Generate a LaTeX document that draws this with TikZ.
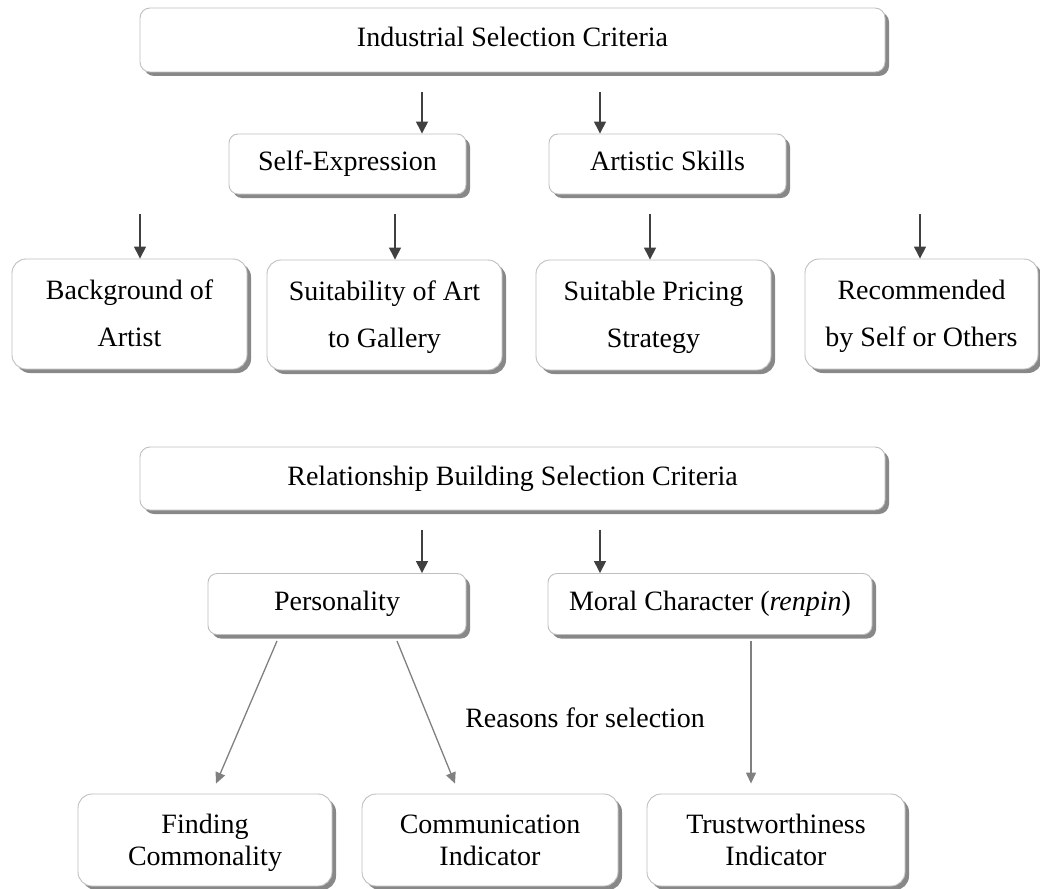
\documentclass[tikz,border=0pt]{standalone}
\usepackage{fontspec}
\setmainfont{Liberation Serif}
\usetikzlibrary{shadows,arrows.meta}
\begin{document}
\begin{tikzpicture}[x=1pt,y=-1pt,
  box/.style={draw=black!25,line width=0.9pt,fill=white,rounded corners=#1,
    align=center,inner sep=0pt,font=\fontsize{28}{34}\selectfont,
    drop shadow={shadow xshift=4pt,shadow yshift=-4pt,fill=black!55,opacity=0.85}},
  box/.default=10pt,
  tall/.style={font=\fontsize{28}{47}\selectfont},
  low/.style={font=\fontsize{28}{32}\selectfont,align=center,inner sep=0pt},
  darr/.style={draw=black!75,line width=1.4pt,-{Triangle[width=12pt,length=12pt]}},
  garr/.style={draw=black!50,line width=1.3pt,-{Triangle[width=10pt,length=11pt]}},
  lbl/.style={font=\fontsize{28}{34}\selectfont,inner sep=0pt}
]
\useasboundingbox (0,0) rectangle (1040,888);
\clip (0,0) rectangle (1040,888);

% --- Industrial criteria ---
\node[box, minimum width=745pt, minimum height=64pt] (ind) at (512.5,40) {Industrial Selection Criteria\strut};
\node[box=9pt, minimum width=237pt, minimum height=60pt] (self) at (347.5,164) {Self-Expression\strut};
\node[box=9pt, minimum width=237pt, minimum height=60pt] (art) at (667.5,164) {Artistic Skills\strut};

\node[box=14pt, tall, minimum width=235pt, minimum height=110pt] (bg) at (129.5,314) {Background of\strut\\Artist\strut};
\node[box=14pt, tall, minimum width=235pt, minimum height=110pt] (suit) at (384.5,315) {Suitability of Art\strut\\to Gallery\strut};
\node[box=14pt, tall, minimum width=235pt, minimum height=110pt] (price) at (653.5,315) {Suitable Pricing\strut\\Strategy\strut};
\node[box=14pt, tall, minimum width=233pt, minimum height=110pt] (rec) at (921.5,314) {Recommended\strut\\by Self or Others\strut};

\coordinate (i1) at (422,92);
\coordinate (i2) at (600,92);
\coordinate (r1) at (140,214);
\coordinate (r2) at (395,214);
\coordinate (r3) at (650,214);
\coordinate (r4) at (920,214);
\draw[darr] (i1) -- (i1 |- self.north);
\draw[darr] (i2) -- (i2 |- art.north);
\draw[darr] (r1) -- (r1 |- bg.north);
\draw[darr] (r2) -- (r2 |- suit.north);
\draw[darr] (r3) -- (r3 |- price.north);
\draw[darr] (r4) -- (r4 |- rec.north);

% --- Relationship building criteria ---
\node[box, minimum width=745pt, minimum height=63pt] (rel) at (512.5,478.5) {Relationship Building Selection Criteria\strut};
\node[box=9pt, minimum width=258pt, minimum height=61pt] (pers) at (337,604) {Personality\strut};
\node[box=9pt, minimum width=324pt, minimum height=61pt] (moral) at (710,604) {Moral Character (\textit{renpin})\strut};

\coordinate (b1) at (422,530);
\coordinate (b2) at (600,530);
\draw[darr] (b1) -- (b1 |- pers.north);
\draw[darr] (b2) -- (b2 |- moral.north);

% bottom row: frames, then their two-line captions
\node[box=14pt, minimum width=254pt, minimum height=92pt] (fc) at (205,840) {};
\node[box=14pt, minimum width=256pt, minimum height=92pt] (comm) at (490,840) {};
\node[box=14pt, minimum width=258pt, minimum height=92pt] (trust) at (776,840) {};
\node[low] (fct) at (205,843) {Finding\strut\\Commonality\strut};
\node[low] (commt) at (490,843) {Communication\strut\\Indicator\strut};
\node[low] (trustt) at (776,843) {Trustworthiness\strut\\Indicator\strut};

\draw[garr] ([xshift=-60pt,yshift=-6pt]pers.south) -- ([xshift=11pt,yshift=10pt]fc.north);
\draw[garr] ([xshift=60pt,yshift=-6pt]pers.south) -- ([xshift=-35pt,yshift=10pt]comm.north);
\draw[garr] ([xshift=41pt,yshift=-6pt]moral.south) -- ([xshift=-25pt,yshift=10pt]trust.north);

\node[lbl] (why) at (585,718) {Reasons for selection};
\end{tikzpicture}
\end{document}
